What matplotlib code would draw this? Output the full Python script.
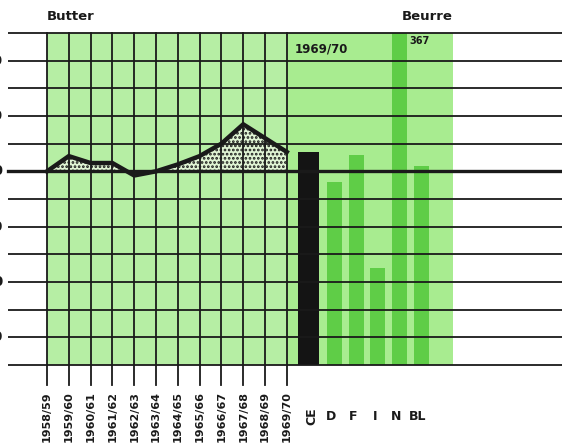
#!/usr/bin/env python3
"""
Butter / Beurre: index line 1958/59-1969/70 plus 1969/70 country bars
"""

import matplotlib
matplotlib.use('Agg')
import matplotlib.pyplot as plt
import numpy as np

plt.rcParams['font.family'] = ['DejaVu Sans']
plt.rcParams['hatch.linewidth'] = 1.3

# data
years = ['1958/59', '1959/60', '1960/61', '1961/62', '1962/63', '1963/64',
         '1964/65', '1965/66', '1966/67', '1967/68', '1968/69', '1969/70']
index_values = [100, 105.5, 103, 103, 98.5, 100, 102.5, 105.5, 110, 117, 112, 107]

countries = ['CE', 'D', 'F', 'I', 'N', 'BL']
country_values = [107, 96, 106, 65, 367, 102]

y_ticks = [40, 60, 80, 100, 120, 140]
y_lines = list(range(30, 151, 10))

# scale: 1 year = 21.8 px, 10 units = 27.67 px
X_PX = 21.8
Y_PX = 2.7667
X0_PX = 47
TOP_PX = 33

LEFT_GREEN = '#b6eea4'
RIGHT_GREEN = '#a8ec90'
BAR_GREEN = '#5fcd47'
INK = '#1a1a1a'


def main():
    fig = plt.figure(figsize=(5.62, 4.44), dpi=100)
    ax = fig.add_axes([0, 0, 1, 1])
    ax.set_xlim(-X0_PX / X_PX, (562 - X0_PX) / X_PX)
    ax.set_ylim(150 - (444 - TOP_PX) / Y_PX, 150 + TOP_PX / Y_PX)
    ax.axis('off')

    ymin, ymax = min(y_lines), max(y_lines)
    n = len(years)
    x = np.arange(n)

    # panels
    ax.fill_between([0, n - 1], ymin, ymax, color=LEFT_GREEN, lw=0, zorder=0)
    ax.fill_between([n - 1, 18.62], ymin, ymax, color=RIGHT_GREEN, lw=0, zorder=0)

    # horizontal rules
    x_left = (8 - X0_PX) / X_PX
    x_right = (562 - X0_PX) / X_PX
    for v in y_lines:
        ax.plot([x_left, x_right], [v, v], color=INK, lw=1.3, zorder=3,
                solid_capstyle='butt')
    ax.plot([x_left, x_right], [100, 100], color=INK, lw=2.4, zorder=4)

    # vertical rules with ticks below
    y_tick_end = ymin - 20 / Y_PX
    for i in x:
        ax.plot([i, i], [ymax, y_tick_end], color=INK, lw=1.3, zorder=3)

    # index line with dotted fill above base
    vals = np.array(index_values)
    ax.fill_between(x, vals, 100, where=vals >= 100, interpolate=True,
                    facecolor='#e0f4d4', edgecolor=INK, hatch='....', lw=0, zorder=2)
    ax.plot(x, vals, color=INK, lw=3.2, zorder=5, solid_joinstyle='miter')

    # 1969/70 bars
    bar_x = [n] + [n + 1.2 + 0.99 * k for k in range(len(countries) - 1)]
    widths = [0.96] + [0.69] * (len(countries) - 1)
    colors = ['#141414'] + [BAR_GREEN] * (len(countries) - 1)
    tops = [min(v, ymax) for v in country_values]
    ax.bar(bar_x, [t - ymin for t in tops], bottom=ymin, width=widths,
           color=colors, lw=0, zorder=2.5)
    for bx, v, t in zip(bar_x, country_values, tops):
        if v > ymax:
            ax.text(bx + 0.45, t - 3, str(v), fontsize=7, fontweight='bold',
                    color=INK, ha='left', va='center', zorder=6)

    # y labels, cut at the left edge as in the scan
    for v in y_ticks:
        ax.text(-2.02, v, str(v), fontsize=10, fontweight='bold', color=INK,
                ha='right', va='center')

    # year labels
    label_top = 150 - (391 - TOP_PX) / Y_PX
    for i, yr in enumerate(years):
        ax.text(i, label_top, yr, rotation=90, fontsize=8, fontweight='bold',
                color=INK, ha='center', va='top')

    # country labels
    cl_y = 150 - (416 - TOP_PX) / Y_PX
    ax.text(bar_x[0] + 0.15, cl_y, countries[0], rotation=90, fontsize=9,
            fontweight='bold', color=INK, ha='center', va='center')
    for bx, c in zip(bar_x[1:], countries[1:]):
        ax.text(bx - 0.15, cl_y, c, fontsize=9, fontweight='bold', color=INK,
                ha='center', va='center')

    # titles
    title_y = 150 + (TOP_PX - 17) / Y_PX
    ax.text(0, title_y, 'Butter', fontsize=9.5, fontweight='bold', color=INK,
            ha='left', va='center')
    ax.text(18.62, title_y, 'Beurre', fontsize=9.5, fontweight='bold', color=INK,
            ha='right', va='center')
    ax.text(n - 1 + 0.35, 150 - (49 - TOP_PX) / Y_PX, years[-1], fontsize=8.5,
            fontweight='bold', color=INK, ha='left', va='center', zorder=6)

    fig.savefig('out.png', dpi=100, facecolor='white')
    plt.close(fig)


if __name__ == "__main__":
    main()
